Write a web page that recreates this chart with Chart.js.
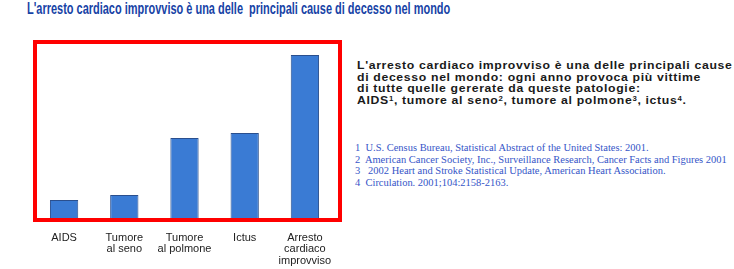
<!DOCTYPE html>
<html><head><meta charset="utf-8">
<script src="https://cdn.jsdelivr.net/npm/chart.js@4"></script>
<style>
body{margin:0;width:734px;height:269px;overflow:hidden;background:#fff;position:relative;font-family:"Liberation Sans",Arial,sans-serif}
#title{position:absolute;left:27px;top:0px;font-weight:bold;font-size:16px;color:#1743a6;white-space:pre;transform-origin:0 0}
#box{position:absolute;left:33px;top:40px;width:301px;height:174px;border:4px solid #ff0000}
#chart{position:absolute;left:0;top:0}
.p{position:absolute;left:357px;font-size:11px;font-weight:bold;color:#1a1a1a;white-space:nowrap;letter-spacing:0.6px;transform-origin:0 50%;line-height:12px}
.f{position:absolute;left:355px;font-family:"Liberation Serif","Times New Roman",serif;font-size:10px;color:#3656c8;white-space:pre;transform-origin:0 50%;line-height:12px}
sup{font-size:7px;vertical-align:3px;line-height:0}
</style></head>
<body>
<div id="title">L'arresto cardiaco improvviso è una delle  principali cause di decesso nel mondo</div>
<div id="box"></div>
<canvas id="chart" width="345" height="269"></canvas>
<div class="p" style="top:59px">L'arresto cardiaco improvviso è una delle principali cause</div>
<div class="p" style="top:70.7px">di decesso nel mondo: ogni anno provoca più vittime</div>
<div class="p" style="top:82.3px">di tutte quelle gererate da queste patologie:</div>
<div class="p" style="top:94px">AIDS<sup>1</sup>, tumore al seno<sup>2</sup>, tumore al polmone<sup>3</sup>, ictus<sup>4</sup>.</div>
<div class="f" style="top:142px">1  U.S. Census Bureau, Statistical Abstract of the United States: 2001.</div>
<div class="f" style="top:153.7px">2  American Cancer Society, Inc., Surveillance Research, Cancer Facts and Figures 2001</div>
<div class="f" style="top:165px">3   2002 Heart and Stroke Statistical Update, American Heart Association.</div>
<div class="f" style="top:177px">4  Circulation. 2001;104:2158-2163.</div>
<script>
const categories = [["AIDS"], ["Tumore", "al seno"], ["Tumore", "al polmone"], ["Ictus"], ["Arresto", "cardiaco", "improvviso"]];
const values = [18, 23, 80, 85, 163];

new Chart(document.getElementById('chart'), {
  type: 'bar',
  data: {
    labels: categories,
    datasets: [{
      data: values,
      backgroundColor: '#3a7bd4',
      borderColor: '#2a4f8e',
      borderWidth: 1,
      barPercentage: 0.47,
      categoryPercentage: 1
    }]
  },
  options: {
    responsive: false,
    animation: false,
    layout: { padding: { left: 34, right: 10, top: 43, bottom: 0 } },
    plugins: { legend: { display: false }, tooltip: { enabled: false } },
    scales: {
      y: { display: false, min: 0, max: 175 },
      x: {
        grid: { display: false },
        border: { display: false },
        ticks: {
          color: '#222',
          font: { family: "'Liberation Sans', Arial, sans-serif", size: 11, lineHeight: 1.05 },
          padding: 6,
          autoSkip: false,
          maxRotation: 0
        },
        afterFit: s => { s.height = 51; }
      }
    }
  }
});

function fitAll() {
  const t = document.getElementById('title');
  t.style.transform = 'scaleX(' + (423 / t.scrollWidth) + ')';
  const ps = document.querySelectorAll('.p');
  const sp = 376 / ps[0].scrollWidth;
  ps.forEach(p => p.style.transform = 'scaleX(' + sp + ')');
  const fs = document.querySelectorAll('.f');
  const sf = 372 / fs[1].scrollWidth;
  fs.forEach(f => f.style.transform = 'scaleX(' + sf + ')');
}
fitAll();
if (document.fonts && document.fonts.ready) document.fonts.ready.then(fitAll);
</script>
</body></html>
